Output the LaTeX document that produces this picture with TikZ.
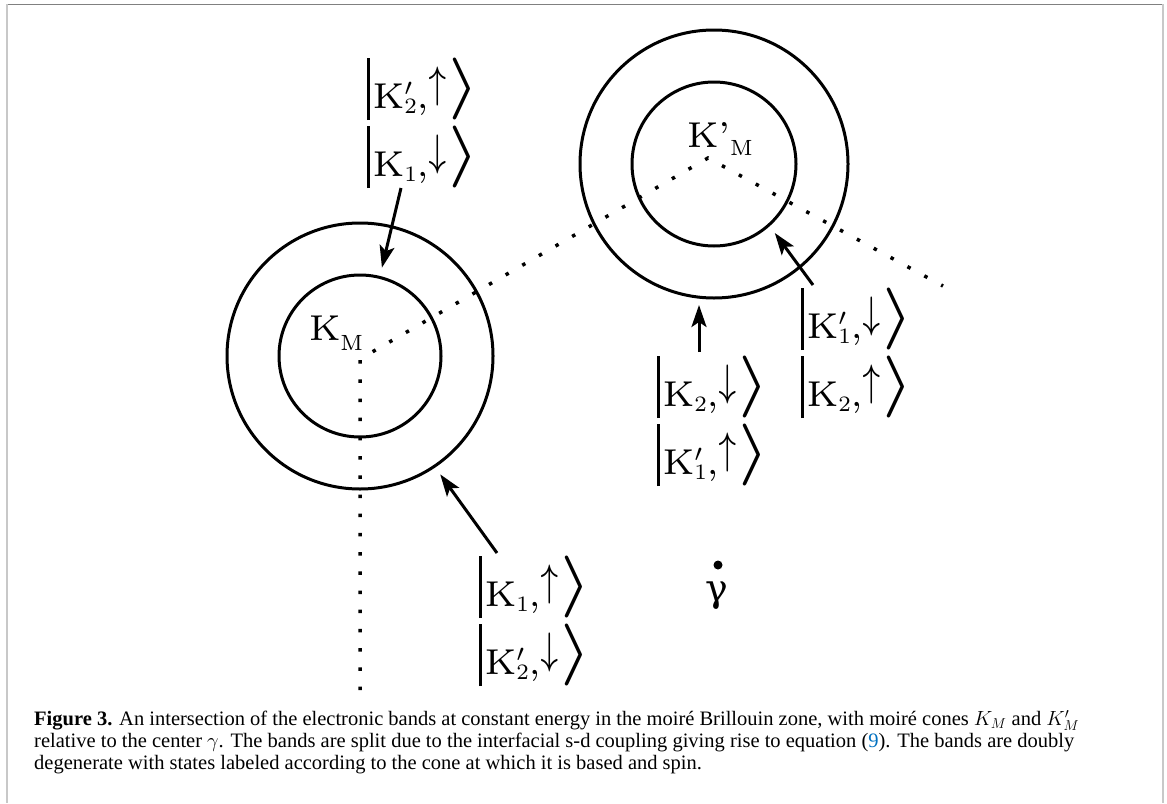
\RequirePackage{fix-cm}
\documentclass[tikz,border=0pt]{standalone}
\usepackage{fontspec}
\usepackage{graphicx}
\usepackage{tikz}
\usetikzlibrary{arrows.meta,calc,positioning}
\newfontfamily\capfont{Liberation Serif}
\newfontfamily\grfont{DejaVu Serif}
\definecolor{framegray}{RGB}{200,200,200}
\definecolor{rulegray}{RGB}{128,128,128}
\definecolor{refblue}{RGB}{0,112,192}
\font\ketrm=cmr7 at 36pt
\font\ketsub=cmr7 at 22pt
\font\ketpr=cmsy7 at 24pt
\font\ketsy=cmsy7 at 44pt
\font\ketdl=cmsy5 at 62pt
\newcommand{\kprime}{\rlap{\raise13pt\hbox{\ketpr\char"30}}}
\newcommand{\kst}[3]{\vrule width 2.8pt height 50pt depth 12pt\kern3pt{\ketrm K}#1\lower5pt\hbox{\ketsub #2}{\ketrm ,}\raise11pt\hbox{\scalebox{0.72}[1]{\ketsy #3}}\kern-1pt\raise3.5pt\hbox{\ketdl\char"69}}

\begin{document}
\begin{tikzpicture}[x=1pt,y=-1pt,>={Stealth[length=22pt,width=15pt,inset=5pt]},
    band/.style={circle,draw,line width=3pt,inner sep=0pt,outer sep=0pt},
    ket/.style={inner sep=0pt,outer sep=0pt},
    bz/.style={line width=3.5pt,dash pattern=on 3.5pt off 15.7pt},
    arr/.style={->,line width=3pt}]
    \useasboundingbox (0,0) rectangle (1167,803);
    \draw[rulegray,line width=1pt] (7,4) -- (1163,4);
    \draw[framegray,line width=2pt] (7,4) -- (7,803) (1163,4) -- (1163,803);
    \coordinate (KM) at (360,356);
    \coordinate (KP) at (714,164);
    \coordinate (jM) at (360,359);
    \coordinate (jP) at (708,158);
    \coordinate (eR) at (943,286);
    \coordinate (eB) at (360,690);
    \draw[bz] (eB) -- (jM) -- (jP) -- (eR);
    \node[band,minimum size=162pt] (KMin) at (KM) {};
    \node[band,minimum size=266pt] (KMout) at (KM) {};
    \node[band,minimum size=164pt] (KPin) at (KP) {};
    \node[band,minimum size=268pt] (KPout) at (KP) {};
    \node[ket,anchor=base west] (KMlab) at (309,340) {{\ketrm K}\lower10pt\hbox{\ketsub M}};
    \node[ket,anchor=base west] (KPlab) at (687,147) {{\ketrm K'}\lower8pt\hbox{\ketsub M}};
    \node[ket,anchor=west] (kA1) at (367,89) {\kst{\kprime}{2}{\char"22}};
    \node[ket,below=6pt of kA1.south west,anchor=north west] (kA2) {\kst{}{1}{\char"23}};
    \node[ket,anchor=west] (kB1) at (479,587) {\kst{}{1}{\char"22}};
    \node[ket,below=6pt of kB1.south west,anchor=north west] (kB2) {\kst{\kprime}{2}{\char"23}};
    \node[ket,anchor=west] (kC1) at (657,387) {\kst{}{2}{\char"23}};
    \node[ket,below=6pt of kC1.south west,anchor=north west] (kC2) {\kst{\kprime}{1}{\char"22}};
    \node[ket,anchor=west] (kD1) at (801,319) {\kst{\kprime}{1}{\char"23}};
    \node[ket,below=6pt of kD1.south west,anchor=north west] (kD2) {\kst{}{2}{\char"22}};
    \coordinate (sA) at ($(kA2.south west)+(34,0)$);
    \coordinate (sB) at ($(kB1.north west)+(18,-3)$);
    \coordinate (sC) at ($(kC1.north west)+(42,-4)$);
    \coordinate (sD) at ($(kD1.north west)+(12,-3)$);
    \draw[arr,shorten >=10pt] (sA) -- (KMin.76);
    \draw[arr,shorten >=10pt] (sB) -- (KMout.-56);
    \draw[arr,shorten >=7pt] (sC) -- (sC |- KPout.south);
    \draw[arr,shorten >=10pt] (sD) -- (KPin.-48);
    \fill (718,565) circle (4.5pt);
    \node[font=\grfont\fontsize{38}{44}\selectfont] (gam) at (717,596) {γ};
    \node[anchor=north west,inner sep=0pt,align=left,font=\capfont\fontsize{20.5}{22}\selectfont] (cap) at (34,710)
        {\textbf{Figure 3.} An intersection of the electronic bands at constant energy in the moiré Brillouin zone, with moiré cones $K_M$ and $K'_M$\\
        relative to the center $\gamma$. The bands are split due to the interfacial s-d coupling giving rise to equation (\textcolor{refblue}{9}). The bands are doubly\\
        degenerate with states labeled according to the cone at which it is based and spin.};
\end{tikzpicture}
\end{document}
